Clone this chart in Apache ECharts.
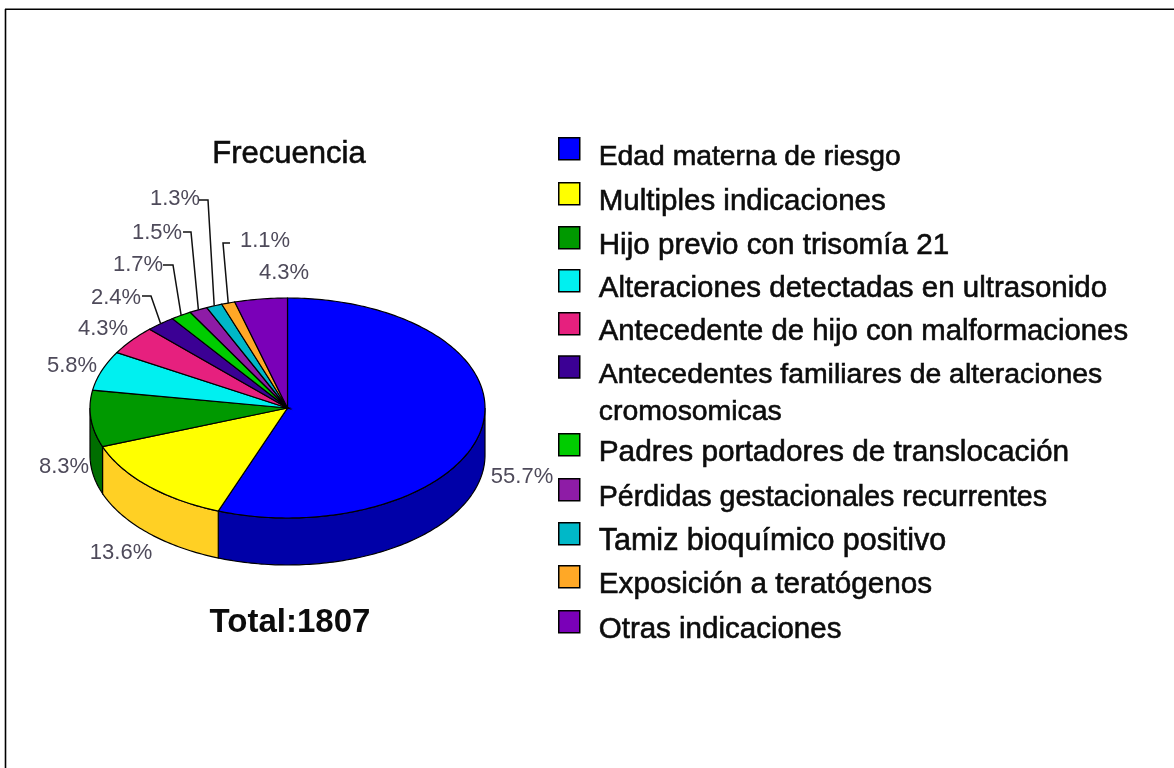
<!DOCTYPE html>
<html><head><meta charset="utf-8">
<style>html,body{margin:0;padding:0;background:#fff}#c{width:1174px;height:768px}</style>
<script src="https://cdn.jsdelivr.net/npm/echarts@6/dist/echarts.min.js"></script>
</head><body><div id="c"></div>
<script>
const categories = ['Edad materna de riesgo','Multiples indicaciones','Hijo previo con trisomía 21','Alteraciones detectadas en ultrasonido','Antecedente de hijo con malformaciones','Antecedentes familiares de alteraciones\ncromosomicas','Padres portadores de translocación','Pérdidas gestacionales recurrentes','Tamiz bioquímico positivo','Exposición a teratógenos','Otras indicaciones'];
const values = [55.7,13.6,8.3,5.8,4.3,2.4,1.7,1.5,1.3,1.1,4.3];
const titleText = 'Frecuencia';
const totalText = 'Total:1807';

// styles and layout, kept apart from the data
const colors = ['#0000FF','#FFFF00','#009900','#00F0F0','#E6207E','#3B0094','#00CC00','#8E1CA6','#00B8C8','#FFA826','#7A00B8'];
const sideColors = ['#0000A8','#FFD024','#006E00','#00B0B0','#A8185C','#2A006C','#009000','#681478','#008490','#BC7A1C','#580088'];
const pie = {cx:287.5, cy:408, rx:197.5, ry:110, depth:47};
const labelAnchors = [[522,477],[121,553],[64,467],[72,366],[103,329],[116,298],[138,265],[157,233],[175,199],[265,241],[284,273]];
const leaderElbows = [null,null,null,null,null,[[142,296],[151,296]],[[163,265],[173,265]],[[183,232],[191,232]],[[199,200],[208,200]],[[230,243],[223,243]],null];
const legendSymbolTops = [137,182,226,269,312,355,433,478,522,565,610];
const legendFontSizes = [28.3,29.5,29.6,29.5,29.3,28.4,29.8,28.6,30.5,29.7,29.5];
const LF = '"Liberation Sans", Arial, sans-serif';

const total = values.reduce((a,b)=>a+b,0);
function rim(angleDeg, dy){
  const t = angleDeg*Math.PI/180;
  return [pie.cx+pie.rx*Math.sin(t), pie.cy-pie.ry*Math.cos(t)+(dy||0)];
}
function arc(a0,a1,dy){
  const n = Math.max(2,Math.ceil(Math.abs(a1-a0)));
  const out = [];
  for(let i=0;i<=n;i++) out.push(rim(a0+(a1-a0)*i/n,dy));
  return out;
}
function renderSlice(idx){
  return function(params, api){
    const v = api.value(0);
    let before = 0;
    for(let i=0;i<idx;i++) before += values[i];
    const a0 = before/total*360, a1 = (before+v)/total*360;
    const children = [];
    const s0 = Math.max(a0,90), s1 = Math.min(a1,270);
    if(s1>s0){
      children.push({type:'polygon',shape:{points:arc(s0,s1,0).concat(arc(s1,s0,pie.depth))},
        style:{fill:sideColors[idx],stroke:'#000',lineWidth:1.2}});
    }
    children.push({type:'polygon',shape:{points:[[pie.cx,pie.cy]].concat(arc(a0,a1,0))},
      style:{fill:colors[idx],stroke:'#000',lineWidth:1.2}});
    const anchor = labelAnchors[idx];
    children.push({type:'text',style:{text:v.toFixed(1)+'%',x:anchor[0],y:anchor[1],
      align:'center',verticalAlign:'middle',fill:'#4E4A5A',font:'22px '+LF}});
    const elbow = leaderElbows[idx];
    if(elbow){
      children.push({type:'polyline',shape:{points:elbow.concat([rim((a0+a1)/2,0)])},
        style:{fill:'none',stroke:'#111',lineWidth:1.5}});
    }
    return {type:'group',children};
  };
}
function legendRich(size){
  const base = {fontFamily:LF,fontSize:size,color:'#0c0c0c',textBorderColor:'#0c0c0c',textBorderWidth:0.6};
  return {
    one:Object.assign({},base,{padding:[16,0,0,14]}),
    line:Object.assign({},base,{padding:[0,0,0,14],lineHeight:37}),
    gap:{fontFamily:LF,fontSize:10,lineHeight:53,color:'#fff'}
  };
}
const option = {
  animation:false,
  backgroundColor:'#fff',
  title:[
    {text:titleText,left:284,top:134,textAlign:'center',textStyle:{fontFamily:LF,fontSize:31,fontWeight:'normal',color:'#0c0c0c',textBorderColor:'#0c0c0c',textBorderWidth:0.6}},
    {text:totalText,left:285,top:601,textAlign:'center',textStyle:{fontFamily:LF,fontSize:33,fontWeight:'bold',color:'#0c0c0c'}}
  ],
  legend:categories.map((c,i)=>{
    const wrapped = c.indexOf('\n')>=0;
    const lift = wrapped ? 30 : 0;
    return {
      data:[c],left:558,top:legendSymbolTops[i]-lift,orient:'vertical',padding:0,selectedMode:false,
      itemWidth:21,itemHeight:22,itemGap:0,icon:'rect',
      itemStyle:{color:colors[i],borderColor:'#000',borderWidth:1.5},
      textStyle:{rich:legendRich(legendFontSizes[i])},
      formatter:n=>wrapped
        ? '{gap| }\n'+n.split('\n').map(s=>'{line|'+s+'}').join('\n')
        : '{one|'+n+'}'
    };
  }),
  graphic:[
    {type:'line',shape:{x1:5.5,y1:9,x2:5.5,y2:768},style:{stroke:'#000',lineWidth:1.6},silent:true},
    {type:'line',shape:{x1:5,y1:9.2,x2:1174,y2:9.2},style:{stroke:'#000',lineWidth:1.6},silent:true}
  ],
  series:categories.map((c,i)=>({
    type:'custom',name:c,coordinateSystem:'none',silent:true,
    itemStyle:{color:colors[i]},
    data:[[values[i]]],
    renderItem:renderSlice(i)
  }))
};
echarts.init(document.getElementById('c'),null,{renderer:'canvas'}).setOption(option);
</script></body></html>
